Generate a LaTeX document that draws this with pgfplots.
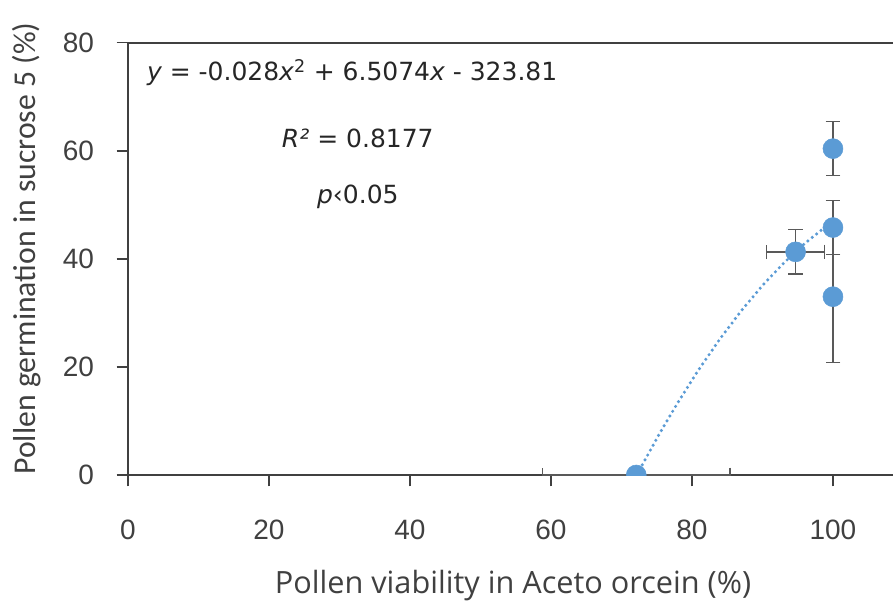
\documentclass[border=0pt]{standalone}
\usepackage{fontspec}
\usepackage{pgfplots}
\pgfplotsset{compat=1.18}
\setmainfont{Open Sans}
\newfontfamily\tickfont{Liberation Sans}
\newfontfamily\notefont{DejaVu Sans}
\newfontfamily\ylabfont{Carlito}
\definecolor{ptblue}{HTML}{5B9BD5}
\definecolor{axgray}{HTML}{404040}
\definecolor{errgray}{HTML}{595959}
\definecolor{notegray}{HTML}{262626}

\begin{document}
\begin{tikzpicture}
\begin{axis}[
  scale only axis,
  width=576.3pt, height=324.2pt,
  xmin=0, xmax=109, ymin=0, ymax=80,
  xtick={0,20,...,100}, ytick={0,20,...,80},
  tick pos=left, tick align=outside,
  major tick length=8.5pt,
  axis line style={axgray, line width=1.2pt},
  every tick/.style={axgray, line width=1.1pt},
  ticklabel style={font=\tickfont\fontsize{21}{25}\selectfont, text=axgray},
  xticklabel style={yshift=-22pt},
  yticklabel style={xshift=-13.5pt},
  /pgf/number format/assume math mode=true,
  xlabel={Pollen viability in Aceto orcein (\%)},
  ylabel={Pollen germination in sucrose 5 (\%)},
  xlabel style={font=\fontsize{23}{27}\selectfont, text=axgray,
    at={(axis description cs:0.501,-0.273)}, anchor=base},
  ylabel style={font=\ylabfont\fontsize{23.8}{28}\selectfont, text=axgray,
    at={(axis description cs:-0.121,0.524)}, anchor=base},
  clip marker paths=true,
]
\coordinate (sw) at (rel axis cs:0,0);

% quadratic trendline, sampled along the fitted equation
\addplot[ptblue, line width=2.6pt, dash pattern=on 0pt off 4.2pt, line cap=round]
  coordinates {
    (72.2,0.06) (75,6.75) (78,13.42) (81,19.58) (84,25.24) (87,30.40)
    (90,35.06) (93,39.21) (96,42.85) (99,46.00) (100,46.93)
  };

% observed means with standard errors
\addplot[only marks, mark=*, mark size=7.5pt,
  mark options={fill=ptblue, draw=ptblue},
  error bars/.cd,
    x dir=both, x explicit, y dir=both, y explicit,
    error bar style={errgray, line width=1.1pt},
    error mark options={rotate=90, errgray, line width=1.1pt, mark size=5.5pt}]
  coordinates {
    (72.1,0)    +- (13.3,0)
    (94.7,41.3) +- (4.1,4.1)
    (100,60.4)  +- (0,5.0)
    (100,45.8)  +- (0,5.0)
    (100,33.0)  +- (0,12.2)
  };

\node[font=\notefont\fontsize{18.75}{22}\selectfont, text=notegray, anchor=base]
  at (axis cs:31.8,73.0) {\itshape y\upshape{} = -0.028\itshape x\upshape\textsuperscript{2} + 6.5074\itshape x\upshape{} - 323.81};
\node[font=\notefont\fontsize{18.75}{22}\selectfont, text=notegray, anchor=base]
  at (axis cs:32.6,60.6) {\itshape R²\upshape{} = 0.8177};
\node[font=\notefont\fontsize{18.75}{22}\selectfont, text=notegray, anchor=base]
  at (axis cs:32.6,50.3) {\itshape p\upshape‹0.05};
\end{axis}
\pgfresetboundingbox
\path[use as bounding box] ([xshift=-96pt,yshift=-94.5pt]sw) rectangle ++(669.75pt,450.75pt);
\end{tikzpicture}
\end{document}
